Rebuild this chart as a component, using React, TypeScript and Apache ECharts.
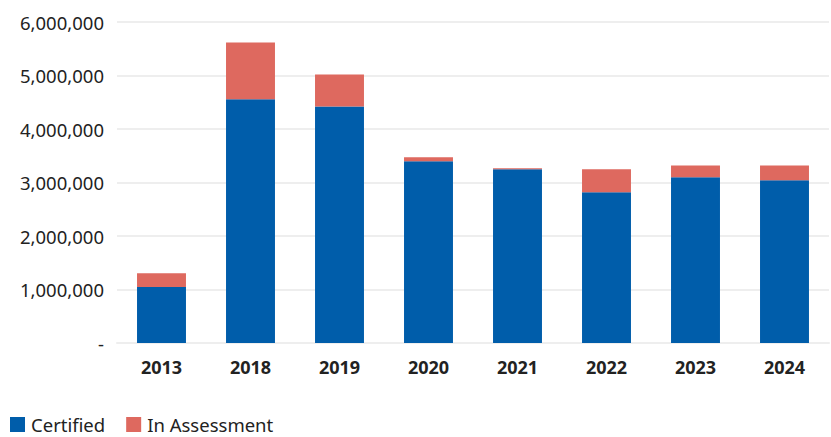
import React, { useEffect, useRef } from "react";
import * as echarts from "echarts";

const categories = ["2013", "2018", "2019", "2020", "2021", "2022", "2023", "2024"];
const certified = [1045000, 4555000, 4420000, 3395000, 3246000, 2817000, 3097000, 3040000];
const inAssessment = [261000, 1061000, 599000, 75000, 19000, 429000, 223000, 280000];

export default function App() {
  const ref = useRef<HTMLDivElement>(null);
  useEffect(() => {
    if (!ref.current) return;
    const chart = echarts.init(ref.current, undefined, { renderer: "svg" });
    const font = "'Noto Sans', sans-serif";
    chart.setOption({
      animation: false,
      grid: { left: 117, right: 2, top: 22, bottom: 94, containLabel: false },
      legend: {
        left: 10,
        bottom: 3,
        padding: 0,
        itemWidth: 15,
        itemHeight: 15,
        itemGap: 21,
        icon: "rect",
        textStyle: { fontFamily: font, fontSize: 18.5, lineHeight: 19, color: "#222", padding: [0, 0, 0, 1] },
        data: ["Certified", "In Assessment"],
      },
      xAxis: {
        type: "category",
        data: categories,
        axisLine: { lineStyle: { color: "#eeeeee", width: 2 } },
        axisTick: { show: false },
        axisLabel: { fontFamily: font, fontSize: 18, fontWeight: "bold", color: "#222", margin: 15 },
      },
      yAxis: {
        type: "value",
        min: 0,
        max: 6000000,
        interval: 1000000,
        axisLine: { show: false },
        axisTick: { show: false },
        splitLine: { lineStyle: { color: "#eeeeee", width: 2 } },
        axisLabel: {
          fontFamily: font,
          fontSize: 18.5,
          color: "#222",
          margin: 13,
          formatter: (v: number) => (v === 0 ? "-" : v.toLocaleString("en-US")),
        },
      },
      series: [
        {
          name: "Certified",
          type: "bar",
          stack: "total",
          barWidth: "55%",
          itemStyle: { color: "#005DAA" },
          data: certified,
        },
        {
          name: "In Assessment",
          type: "bar",
          stack: "total",
          barWidth: "55%",
          itemStyle: { color: "#DE695F" },
          data: inAssessment,
        },
      ],
    });
    return () => chart.dispose();
  }, []);
  return <div ref={ref} style={{ width: 831, height: 437, position: "absolute", left: 0, top: 0 }} />;
}
